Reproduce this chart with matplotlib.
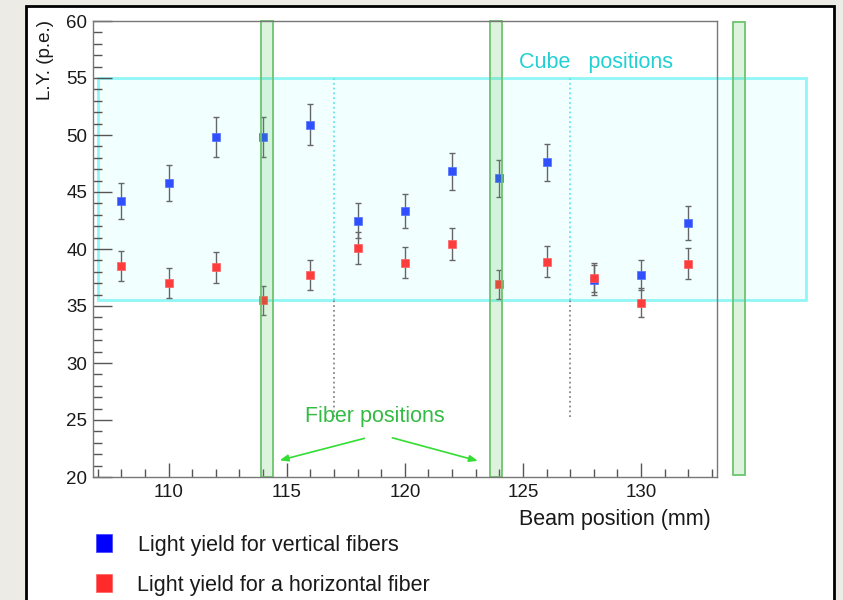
import matplotlib
matplotlib.use("Agg")
import matplotlib.pyplot as plt
from matplotlib.patches import Rectangle
from matplotlib.ticker import MultipleLocator

plt.rcParams['font.family'] = ['Liberation Sans', 'DejaVu Sans']

# beam positions (mm)
beam_pos = [108, 110, 112, 114, 116, 118, 120, 122, 124, 126, 128, 130, 132]

# light yield for vertical fibers (p.e.)
ly_vert = [44.2, 45.8, 49.8, 49.8, 50.9, 42.5, 43.3, 46.8, 46.2, 47.6, 37.3, 37.7, 42.3]
err_vert = [1.55, 1.6, 1.75, 1.75, 1.8, 1.5, 1.5, 1.65, 1.6, 1.65, 1.3, 1.3, 1.5]

# light yield for a horizontal fiber (p.e.)
ly_horz = [38.5, 37.0, 38.4, 35.5, 37.7, 40.1, 38.8, 40.4, 36.9, 38.9, 37.5, 35.3, 38.7]
err_horz = [1.35, 1.3, 1.35, 1.25, 1.3, 1.4, 1.35, 1.4, 1.3, 1.35, 1.3, 1.25, 1.35]

# cube edges (mm) and fiber bands (mm)
cube_edges = [107, 117, 127, 137]
cube_ly = (35.5, 55)
fiber_bands = [(113.9, 114.4), (123.6, 124.1), (133.9, 134.4)]

fig = plt.figure(figsize=(8.43, 6), dpi=100)
fig.patch.set_facecolor('#ecebe5')

# white page with black border
page = Rectangle((26 / 843, -0.05), (834 - 26) / 843, 1.05 - 6 / 600,
                 transform=fig.transFigure, facecolor='white',
                 edgecolor='black', lw=2, zorder=-10)
fig.patches.append(page)

ax = fig.add_axes([93 / 843, 1 - 477 / 600, (716.7 - 93) / 843, (477 - 21) / 600])
ax.set_facecolor('none')
ax.set_xlim(106.8, 133.2)
ax.set_ylim(20, 60)

# cube box
ax.add_patch(Rectangle((cube_edges[0], cube_ly[0]), cube_edges[-1] - cube_edges[0],
                       cube_ly[1] - cube_ly[0], facecolor='#f2ffff',
                       edgecolor='#90f6f6', lw=2, clip_on=False, zorder=1))
for xe in cube_edges[1:-1]:
    ax.plot([xe, xe], cube_ly, ls=':', color='#60e4ec', lw=1.3, zorder=2)
    ax.plot([xe, xe], [25.3, cube_ly[0]], ls=':', color='#888888', lw=1.3, zorder=2)

# data
ax.errorbar(beam_pos, ly_vert, yerr=err_vert, fmt='none', ecolor='#666666',
            elinewidth=1, capsize=2.5, capthick=1, zorder=3)
ax.errorbar(beam_pos, ly_horz, yerr=err_horz, fmt='none', ecolor='#666666',
            elinewidth=1, capsize=2.5, capthick=1, zorder=3)
ax.plot(beam_pos, ly_vert, 's', color='#3050ff', ms=6.3, mec='#5070ff', mew=0.5, zorder=4)
ax.plot(beam_pos, ly_horz, 's', color='#ff3c3c', ms=6.3, mec='#ff6060', mew=0.5, zorder=4)

# fiber bands
for i, (x0, x1) in enumerate(fiber_bands):
    lo, hi = (20, 60) if i < 2 else (20.2, 59.9)
    ax.add_patch(Rectangle((x0, lo), x1 - x0, hi - lo, facecolor='#40b840',
                           alpha=0.17, edgecolor='none', clip_on=False, zorder=5))
    ax.add_patch(Rectangle((x0, lo), x1 - x0, hi - lo, facecolor='none',
                           edgecolor='#6cc46c', lw=1.3, clip_on=False, zorder=5))

# annotations
ax.text(128.07, 56.4, 'Cube   positions', color='#22d0d4', fontsize=15.5,
        ha='center', va='center', zorder=6)
ax.text(118.72, 25.35, 'Fiber positions', color='#33bb44', fontsize=15.5,
        ha='center', va='center', zorder=6)
arrow_kw = dict(arrowstyle='-|>,head_length=0.5,head_width=0.2', color='#33dd33', lw=1.2)
ax.annotate('', xy=(114.59, 21.4), xytext=(118.4, 23.45), arrowprops=arrow_kw, zorder=6)
ax.annotate('', xy=(123.2, 21.35), xytext=(119.36, 23.5), arrowprops=arrow_kw, zorder=6)

# axes styling (ROOT-like)
for s in ax.spines.values():
    s.set_color('#777777')
    s.set_linewidth(1)
    s.set_zorder(7)
ax.xaxis.set_major_locator(MultipleLocator(5))
ax.xaxis.set_minor_locator(MultipleLocator(1))
ax.yaxis.set_major_locator(MultipleLocator(5))
ax.yaxis.set_minor_locator(MultipleLocator(1))
ax.tick_params(axis='x', which='major', direction='in', length=10, width=1,
               color='#555555', labelsize=13.5, pad=5, top=False)
ax.tick_params(axis='x', which='minor', direction='in', length=5.5, width=1,
               color='#555555', top=False)
ax.tick_params(axis='y', which='major', direction='in', length=13.5, width=1,
               color='#555555', labelsize=13.5, pad=4, right=False)
ax.tick_params(axis='y', which='minor', direction='in', length=6.5, width=1,
               color='#555555', right=False)
for lab in ax.get_xticklabels() + ax.get_yticklabels():
    lab.set_color('#1a1a1a')

fig.text(45 / 843, 1 - 20 / 600, 'L.Y. (p.e.)', rotation=90, ha='center', va='top',
         fontsize=13.5, color='#1a1a1a')
fig.text(711 / 843, 1 - 519 / 600, 'Beam position (mm)', ha='right', va='center',
         fontsize=15.5, color='#1a1a1a')

# legend
fig.patches.append(Rectangle((96 / 843, 1 - 551.5 / 600), 16 / 843, 18 / 600,
                             transform=fig.transFigure, facecolor='#0000ff',
                             edgecolor='#4040ff', lw=0.5))
fig.patches.append(Rectangle((96 / 843, 1 - 591.5 / 600), 16 / 843, 18 / 600,
                             transform=fig.transFigure, facecolor='#ff2a2a',
                             edgecolor='#ff6060', lw=0.5))
fig.text(138 / 843, 1 - 545 / 600, 'Light yield for vertical fibers', ha='left',
         va='center', fontsize=15.5, color='#1a1a1a')
fig.text(137 / 843, 1 - 585.5 / 600, 'Light yield for a horizontal fiber', ha='left',
         va='center', fontsize=15.5, color='#1a1a1a')

fig.savefig('out.png', dpi=100, facecolor=fig.get_facecolor())
